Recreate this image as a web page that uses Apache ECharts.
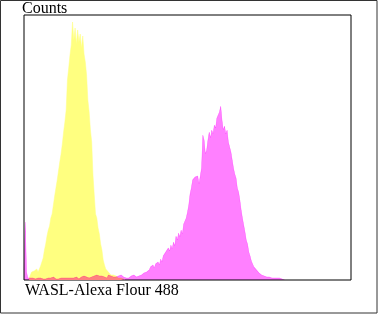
<!DOCTYPE html>
<html>
<head>
<meta charset="utf-8">
<script src="https://cdn.jsdelivr.net/npm/echarts@6/dist/echarts.min.js"></script>
<style>
html,body{margin:0;padding:0;background:#fff;}
#chart{width:378px;height:314px;}
</style>
</head>
<body>
<div id="chart"></div>
<script>
// Histogram channels (0..256), counts in arbitrary units
var channelMax = 256;
var countMax = 265;
var yTitle = 'Counts';
var xTitle = 'WASL-Alexa Flour 488';

// Yellow (control) histogram, starting at channel 4
var yellowStart = 4;
var yellowCounts = [
  2,5,8,6,9,7,11,8,10,14,
  12,22,30,36,44,50,54,62,66,75,
  84,92,100,109,118,126,136,148,158,170,
  200,212,225,235,258,240,252,236,250,238,
  246,232,244,226,218,205,180,168,150,138,
  105,85,66,62,52,46,36,30,20,15,
  11,9,8,6,5,4,5,3,4,3,
  2,3,2,2,1,0
];

// Magenta (WASL) histogram, starting at channel 0
var magentaStart = 0;
var magentaCounts = [
  10,58,8,2,1,2,1,2,1,1,
  3,2,1,2,3,1,2,1,2,2,
  1,2,1,3,2,1,2,1,3,2,
  1,2,3,2,1,2,1,2,3,2,
  2,3,2,1,2,3,2,4,2,3,
  3,2,4,3,2,4,3,5,3,4,
  3,4,5,3,4,2,5,3,4,5,
  3,4,3,5,4,3,5,4,3,4,
  2,3,2,3,4,3,5,4,3,5,
  4,6,5,4,7,5,8,6,10,13,
  11,15,12,16,14,18,15,21,18,24,
  22,28,26,32,29,35,31,38,34,44,
  40,47,43,50,46,56,54,62,68,75,
  86,92,100,98,103,101,104,96,94,112,
  145,140,126,130,140,148,142,150,146,155,
  152,162,160,168,174,160,150,154,146,150,
  138,140,128,120,112,106,102,92,88,80,
  70,62,55,48,40,36,28,24,19,16,
  13,11,10,8,7,6,5,5,4,4,
  3,4,3,3,2,3,2,2,2,1,
  2,1,1,1,0
];

function toPairs(start, counts) {
  return counts.map(function (v, i) { return [start + i, v]; });
}

var chart = echarts.init(document.getElementById('chart'), null, {renderer: 'canvas'});
var serif = '"Liberation Serif", "DejaVu Serif", serif';
chart.setOption({
  animation: false,
  backgroundColor: '#ffffff',
  grid: {
    left: 24, top: 15, width: 327, height: 265,
    show: true, borderColor: '#000', borderWidth: 1, backgroundColor: 'transparent'
  },
  xAxis: {
    type: 'value', min: 0, max: channelMax,
    axisLine: {show: false}, axisTick: {show: false},
    axisLabel: {show: false}, splitLine: {show: false}
  },
  yAxis: {
    type: 'value', min: 0, max: countMax,
    axisLine: {show: false}, axisTick: {show: false},
    axisLabel: {show: false}, splitLine: {show: false}
  },
  series: [
    {
      type: 'line', data: toPairs(yellowStart, yellowCounts),
      symbol: 'none', smooth: false,
      lineStyle: {color: '#ffff80', width: 0.5},
      areaStyle: {color: '#ffff80', opacity: 1},
      z: 2
    },
    {
      type: 'line', data: toPairs(magentaStart, magentaCounts),
      symbol: 'none', smooth: false,
      lineStyle: {color: '#ff80ff', width: 0.5},
      areaStyle: {color: '#ff80ff', opacity: 1},
      blendMode: 'multiply',
      z: 3
    }
  ],
  graphic: [
    {
      type: 'rect', silent: true, z: 10,
      shape: {x: 0.5, y: 0.5, width: 376.5, height: 312.5},
      style: {fill: 'none', stroke: '#333', lineWidth: 1}
    },
    {
      type: 'text', left: 22, top: 1, silent: true,
      style: {text: yTitle, font: '16px ' + serif, fill: '#000'}
    },
    {
      type: 'text', left: 25, top: 283, silent: true,
      style: {text: xTitle, font: '16px ' + serif, fill: '#000'}
    }
  ]
});
</script>
</body>
</html>
